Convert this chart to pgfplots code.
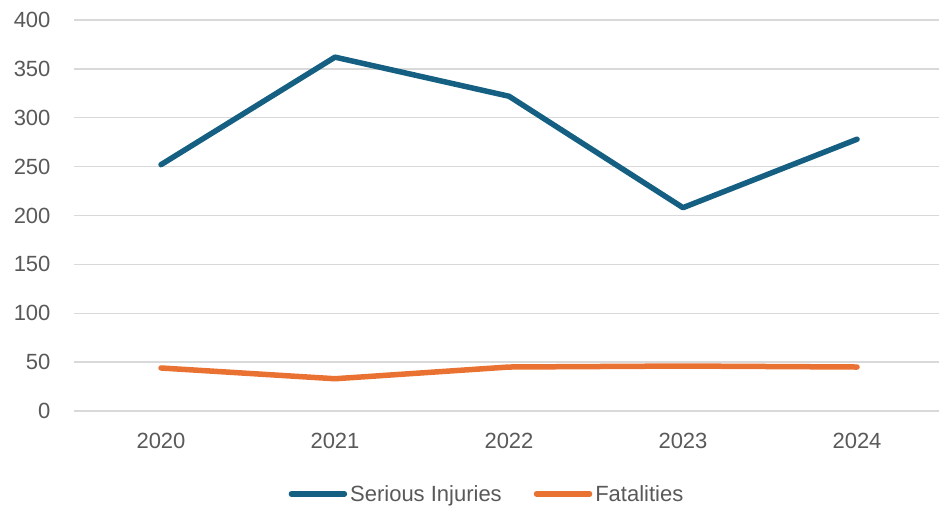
\documentclass[border=0pt]{standalone}
\usepackage{fontspec}
\setmainfont{Liberation Sans}
\usepackage{pgfplots}
\pgfplotsset{compat=1.18}
\definecolor{blueS}{HTML}{156082}
\definecolor{orangeF}{HTML}{E97132}
\definecolor{gridc}{HTML}{D9D9D9}
\definecolor{tickc}{HTML}{595959}
\begin{document}
\begin{tikzpicture}[x=1pt,y=1pt]
\useasboundingbox (0,0) rectangle (939,506);
\begin{axis}[
  at={(74pt,95pt)}, anchor=south west,
  scale only axis, width=870pt, height=391pt,
  xmin=-0.5, xmax=4.5, ymin=0, ymax=400,
  xtick={0,1,2,3,4}, xticklabels={2020,2021,2022,2023,2024},
  ytick={0,50,...,400},
  ymajorgrids, grid style={gridc, line width=1.3pt},
  axis line style={draw=none},
  major tick length=0pt,
  tick label style={font=\fontsize{22}{25}\selectfont, text=tickc},
  /pgf/number format/assume math mode=true,
  yticklabel style={xshift=-20pt},
  xticklabel style={yshift=-19pt},
  legend style={at={(0.4747,-0.212)}, anchor=center, draw=none, legend columns=2,
    font=\fontsize{22}{25}\selectfont, text=tickc,
    /tikz/every even column/.append style={column sep=30pt},
    /tikz/every odd column/.append style={column sep=1pt}},
  legend image code/.code={\draw[#1, line width=5.5pt, line cap=round] (2pt,0pt) -- (55pt,0pt);},
]
\addplot[blueS, line width=5.5pt, line cap=round, line join=round] coordinates {(0,252) (1,362) (2,322) (3,208) (4,278)};
\addlegendentry{Serious Injuries}
\addplot[orangeF, line width=5.5pt, line cap=round, line join=round] coordinates {(0,44) (1,33) (2,45) (3,46) (4,45)};
\addlegendentry{Fatalities}
\end{axis}
\end{tikzpicture}
\end{document}
